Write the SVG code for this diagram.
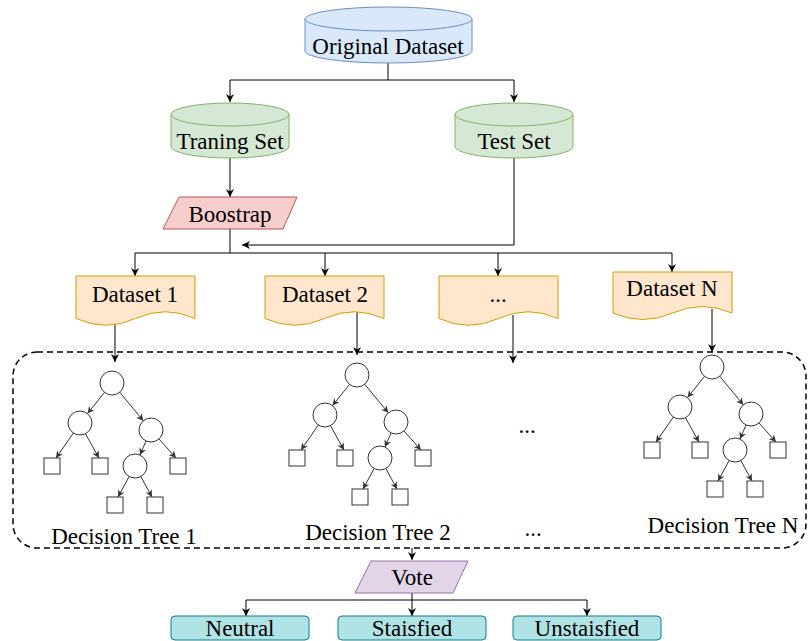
<svg xmlns="http://www.w3.org/2000/svg" xmlns:xlink="http://www.w3.org/1999/xlink" width="809" height="641" viewBox="0 0 809 641">
<defs>
<style>
text{font-family:"Liberation Serif","Times New Roman",serif;font-size:23px;fill:#000;text-anchor:middle}
.conn{fill:none;stroke:#000;stroke-width:1}
.blue{fill:#dae8fc;stroke:#6c8ebf;stroke-width:1}
.green{fill:#d5e8d4;stroke:#82b366;stroke-width:1}
.red{fill:#f8cecc;stroke:#b85450;stroke-width:1}
.orange{fill:#ffe6cc;stroke:#d79b00;stroke-width:1}
.purple{fill:#e1d5e7;stroke:#9673a6;stroke-width:1}
.teal{fill:#b0e3e6;stroke:#0e8088;stroke-width:1}
.tn{fill:#fff;stroke:#333;stroke-width:1}
.te{fill:none;stroke:#333;stroke-width:1}
</style>
<marker id="arr" viewBox="0 0 10 10" refX="10" refY="5" markerWidth="8" markerHeight="8" markerUnits="userSpaceOnUse" orient="auto">
<path d="M0,0 L10,5 L0,10 L3,5 Z" fill="#000"/>
</marker>
<marker id="sarr" viewBox="0 0 10 10" refX="10" refY="5" markerWidth="7" markerHeight="7" markerUnits="userSpaceOnUse" orient="auto">
<path d="M0,0 L10,5 L0,10 L3,5 Z" fill="#333"/>
</marker>
<g id="tree">
<circle class="tn" cx="0" cy="0" r="12"/>
<circle class="tn" cx="-32" cy="40" r="12"/>
<circle class="tn" cx="39" cy="47" r="12"/>
<rect class="tn" x="-68" y="75" width="16" height="16"/>
<rect class="tn" x="-20" y="75" width="16" height="16"/>
<circle class="tn" cx="23" cy="83" r="12"/>
<rect class="tn" x="58" y="75" width="16" height="16"/>
<rect class="tn" x="-5" y="114" width="16" height="16"/>
<rect class="tn" x="35" y="114" width="16" height="16"/>
<g marker-end="url(#sarr)">
<path class="te" d="M-7.5,9.4 L-24.5,30.6"/>
<path class="te" d="M7.7,9.2 L31.3,37.8"/>
<path class="te" d="M-38.6,50 L-56,75"/>
<path class="te" d="M-26.5,50.7 L-13,75"/>
<path class="te" d="M34.1,58 L27.9,72"/>
<path class="te" d="M47,56 L64,75"/>
<path class="te" d="M17.2,93.5 L6,114"/>
<path class="te" d="M28.8,93.5 L40,114"/>
</g>
</g>
</defs>
<rect width="809" height="641" fill="#fff"/>

<g id="connectors">
<path class="conn" d="M388,63 V80 H230 V102" marker-end="url(#arr)"/>
<path class="conn" d="M388,80 H514 V102" marker-end="url(#arr)"/>
<path class="conn" d="M230,158 V197" marker-end="url(#arr)"/>
<path class="conn" d="M514,158 V245 H242" marker-end="url(#arr)"/>
<path class="conn" d="M230,229 V253 H135 V276" marker-end="url(#arr)"/>
<path class="conn" d="M230,253 H325 V276" marker-end="url(#arr)"/>
<path class="conn" d="M325,253 H498 V276" marker-end="url(#arr)"/>
<path class="conn" d="M498,253 H672 V272" marker-end="url(#arr)"/>
<path class="conn" d="M115,323 V362" marker-end="url(#arr)"/>
<path class="conn" d="M357,310 V355" marker-end="url(#arr)"/>
<path class="conn" d="M513,315 V363" marker-end="url(#arr)"/>
<path class="conn" d="M712,309 V352" marker-end="url(#arr)"/>
<path class="conn" d="M412,548 V560" marker-end="url(#arr)"/>
<path class="conn" d="M412,593 V600 H246 V616" marker-end="url(#arr)"/>
<path class="conn" d="M412,600 V616" marker-end="url(#arr)"/>
<path class="conn" d="M412,600 H587 V616" marker-end="url(#arr)"/>
</g>

<g id="original-dataset">
<path class="blue" d="M305,19 A83.5,12 0 0 1 472,19 L472,51 A83.5,12 0 0 1 305,51 Z"/>
<path class="blue" d="M305,19 A83.5,12 0 0 0 472,19"/>
<text x="388" y="54">Original Dataset</text>
</g>
<g id="training-set">
<path class="green" d="M171,114.5 A59,11.5 0 0 1 289,114.5 L289,146.5 A59,11.5 0 0 1 171,146.5 Z"/>
<path class="green" d="M171,114.5 A59,11.5 0 0 0 289,114.5"/>
<text x="230" y="149">Traning Set</text>
</g>
<g id="test-set">
<path class="green" d="M455,114.5 A59,11.5 0 0 1 573,114.5 L573,146.5 A59,11.5 0 0 1 455,146.5 Z"/>
<path class="green" d="M455,114.5 A59,11.5 0 0 0 573,114.5"/>
<text x="514" y="149">Test Set</text>
</g>
<g id="boostrap">
<polygon class="red" points="179,197 297,197 283,229 163,229"/>
<text x="230" y="222">Boostrap</text>
</g>

<g id="dataset-1">
<path class="orange" d="M76,276 H195 V318.5 Q165.25,305 135.5,318.5 Q105.75,332 76,318.5 Z"/>
<text x="135" y="302">Dataset 1</text>
</g>
<g id="dataset-2">
<path class="orange" d="M265,276 H384 V318.5 Q354.25,305 324.5,318.5 Q294.75,332 265,318.5 Z"/>
<text x="325" y="302">Dataset 2</text>
</g>
<g id="dataset-dots">
<path class="orange" d="M439,276 H558 V318.5 Q528.25,305 498.5,318.5 Q468.75,332 439,318.5 Z"/>
<text x="498" y="302">...</text>
</g>
<g id="dataset-n">
<path class="orange" d="M613,272 H732 V313 Q702.25,300 672.5,313 Q642.75,326 613,313 Z"/>
<text x="672" y="296">Dataset N</text>
</g>

<g id="forest">
<rect x="13" y="352" width="793" height="196" rx="24" ry="24" fill="none" stroke="#000" stroke-width="1.5" stroke-dasharray="6 4"/>
</g>
<g id="tree-1">
<use xlink:href="#tree" href="#tree" transform="translate(112,383)"/>
<text x="124" y="544">Decision Tree 1</text>
</g>
<g id="tree-2">
<use xlink:href="#tree" href="#tree" transform="translate(357,375)"/>
<text x="378" y="540">Decision Tree 2</text>
</g>
<g id="tree-dots">
<text x="527" y="433">...</text>
<text x="533" y="536">...</text>
</g>
<g id="tree-n">
<use xlink:href="#tree" href="#tree" transform="translate(712,367)"/>
<text x="723" y="533">Decision Tree N</text>
</g>

<g id="vote">
<polygon class="purple" points="371,561 468,561 453,593 355,593"/>
<text x="412" y="585">Vote</text>
</g>
<g id="neutral">
<rect class="teal" x="171" y="616" width="138" height="24" rx="4"/>
<text x="240" y="636">Neutral</text>
</g>
<g id="staisfied">
<rect class="teal" x="338" y="616" width="148" height="24" rx="4"/>
<text x="412" y="636">Staisfied</text>
</g>
<g id="unstaisfied">
<rect class="teal" x="513" y="616" width="148" height="24" rx="4"/>
<text x="587" y="636">Unstaisfied</text>
</g>
</svg>
